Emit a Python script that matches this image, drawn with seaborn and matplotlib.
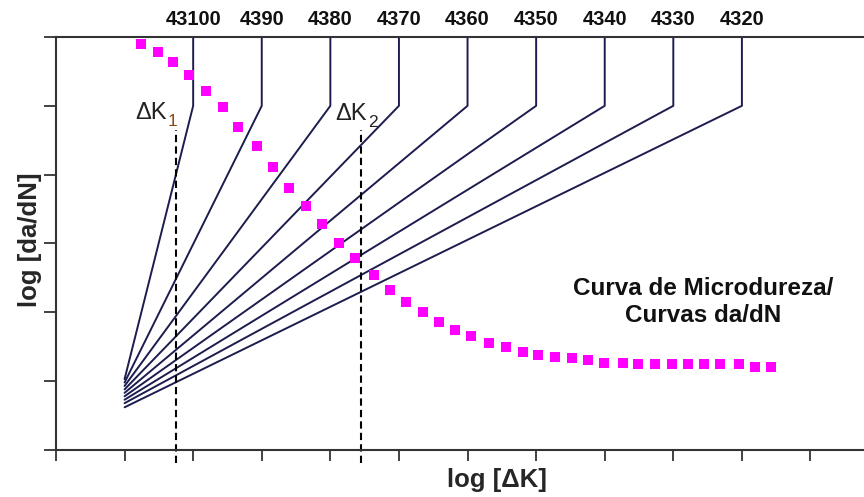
import matplotlib
matplotlib.use("Agg")
import matplotlib.pyplot as plt
import seaborn as sns
import pandas as pd

# Top labels (one per da/dN curve) and where each curve bends to vertical
curve_labels = ["43100", "4390", "4380", "4370", "4360", "4350", "4340", "4330", "4320"]
bend_x = [2, 3, 4, 5, 6, 7, 8, 9, 10]
start_y = [1.03, 0.98, 0.93, 0.88, 0.83, 0.78, 0.73, 0.68, 0.62]
start_x = 1.0
bend_y = 5.0
top_y = 6.0

# Microhardness curve (magenta squares)
micro_x = [1.24, 1.48, 1.71, 1.94, 2.19, 2.43, 2.66, 2.93, 3.17, 3.40,
           3.64, 3.88, 4.13, 4.36, 4.63, 4.87, 5.10, 5.35, 5.59, 5.82,
           6.05, 6.32, 6.56, 6.81, 7.03, 7.27, 7.52, 7.76, 7.99, 8.26,
           8.49, 8.73, 8.98, 9.22, 9.45, 9.68, 9.96, 10.19, 10.43]
micro_y = [5.90, 5.78, 5.64, 5.45, 5.22, 4.98, 4.69, 4.41, 4.11, 3.81,
           3.54, 3.29, 3.01, 2.79, 2.54, 2.33, 2.15, 2.00, 1.86, 1.74,
           1.65, 1.56, 1.49, 1.42, 1.38, 1.35, 1.33, 1.30, 1.27, 1.26,
           1.25, 1.25, 1.25, 1.25, 1.25, 1.25, 1.25, 1.20, 1.20]

# Threshold markers
dk_labels = ["1", "2"]
dk_x = [1.75, 4.45]
dk_top = 4.65

rows = []
for lab, bx, y0 in zip(curve_labels, bend_x, start_y):
    rows.append({"curve": lab, "order": 0, "x": start_x, "y": y0})
    rows.append({"curve": lab, "order": 1, "x": bx, "y": bend_y})
    rows.append({"curve": lab, "order": 2, "x": bx, "y": top_y})
curves = pd.DataFrame(rows)
micro = pd.DataFrame({"x": micro_x, "y": micro_y})

sns.set_theme(style="ticks")
plt.rcParams["font.family"] = ["Liberation Sans", "DejaVu Sans"]

fig = plt.figure(figsize=(8.64, 4.97), dpi=100)
ax = fig.add_axes([0.0648, 0.0946, 0.9352, 0.831])

navy = "#1c1c4e"
sns.lineplot(data=curves, x="x", y="y", units="curve", estimator=None, sort=False,
             color=navy, linewidth=1.4, ax=ax)
sns.scatterplot(data=micro, x="x", y="y", marker="s", s=62, color="#ff00ff",
                linewidth=0, ax=ax, zorder=3)

for xv in dk_x:
    ax.plot([xv, xv], [-0.19, dk_top], color="black", linestyle=(0, (3.5, 2)),
            linewidth=1.5, clip_on=False, zorder=2)

# Delta K labels
ax.text(1.15, 4.81, "\u0394K", fontsize=17, color="#222222", ha="left", va="baseline")
ax.text(1.63, 4.71, dk_labels[0], fontsize=12.5, color="#8b4a10", ha="left", va="baseline")
ax.text(4.07, 4.80, "\u0394K", fontsize=17, color="#222222", ha="left", va="baseline")
ax.text(4.55, 4.69, dk_labels[1], fontsize=12.5, color="#222222", ha="left", va="baseline")

# curve labels above the frame
for lab, bx in zip(curve_labels, bend_x):
    ax.text(bx, 6.25, lab, fontsize=14.5, fontweight="bold", ha="center", va="center",
            color="#111111", clip_on=False)

ax.text(9.43, 2.15, "Curva de Microdureza/\nCurvas da/dN", fontsize=17.5, fontweight="bold",
        ha="center", va="center", color="#111111", linespacing=1.2)

ax.set_xlim(0, 11.78)
ax.set_ylim(0, 6)
ax.set_xticks(range(0, 12))
ax.set_yticks(range(0, 7))
ax.set_xticklabels([])
ax.set_yticklabels([])
ax.tick_params(axis="x", direction="out", length=8, width=1.3, color="#333333")
ax.tick_params(axis="y", direction="out", length=9, width=1.3, color="#333333")

for side in ["left", "bottom", "top"]:
    ax.spines[side].set_color("#333333")
    ax.spines[side].set_linewidth(1.5)
ax.spines["right"].set_visible(False)

ax.set_xlabel("log [\u0394K]", fontsize=18.5, fontweight="bold", va="center")
ax.xaxis.set_label_coords(0.546, -0.073)
ax.set_ylabel("log [da/dN]", fontsize=18.5, fontweight="bold", va="center")
ax.yaxis.set_label_coords(-0.032, 0.508)

fig.savefig("out.png", dpi=100)
